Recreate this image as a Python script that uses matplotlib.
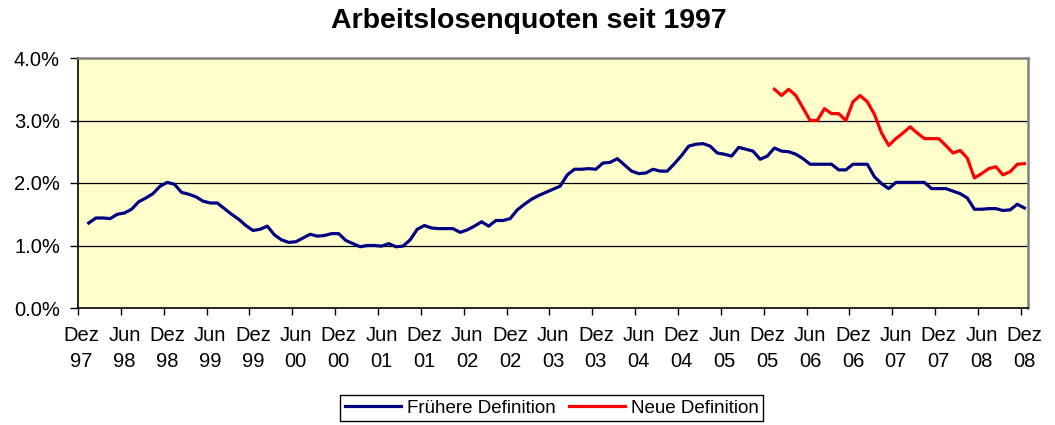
import numpy as np
import matplotlib
matplotlib.use("Agg")
import matplotlib.pyplot as plt
from matplotlib.ticker import FuncFormatter

plt.rcParams['font.family'] = ['Liberation Sans', 'DejaVu Sans']

# monthly unemployment rates (%), month index 0 = Dez 97
fruehere_start = 1   # Jan 98
fruehere = [
    1.36, 1.44, 1.44, 1.43, 1.50, 1.52, 1.58, 1.70, 1.76, 1.83, 1.95, 2.01,
    1.98, 1.85, 1.82, 1.78, 1.71, 1.68, 1.68, 1.59, 1.50, 1.42, 1.32, 1.24,
    1.26, 1.31, 1.17, 1.09, 1.05, 1.06, 1.12, 1.18, 1.15, 1.16, 1.19, 1.19,
    1.08, 1.03, 0.98, 1.00, 1.00, 0.99, 1.03, 0.98, 0.99, 1.09, 1.26, 1.32,
    1.28, 1.27, 1.27, 1.27, 1.21, 1.25, 1.31, 1.38, 1.31, 1.40, 1.40, 1.43,
    1.57, 1.66, 1.74, 1.80, 1.85, 1.90, 1.95, 2.13, 2.22, 2.22, 2.23, 2.22,
    2.32, 2.33, 2.39, 2.29, 2.19, 2.15, 2.16, 2.22, 2.19, 2.19, 2.31, 2.44,
    2.59, 2.62, 2.63, 2.59, 2.48, 2.46, 2.43, 2.57, 2.54, 2.51, 2.38, 2.43,
    2.56, 2.51, 2.50, 2.46, 2.39, 2.30, 2.30, 2.30, 2.30, 2.21, 2.21, 2.30,
    2.30, 2.30, 2.10, 1.99, 1.91, 2.01, 2.01, 2.01, 2.01, 2.01, 1.91, 1.91,
    1.91, 1.87, 1.83, 1.76, 1.58, 1.58, 1.59, 1.59, 1.56, 1.57, 1.66, 1.60,
]

neue_start = 97   # Jan 06
neue = [
    3.50, 3.40, 3.50, 3.40, 3.20, 3.00, 3.00, 3.19, 3.11, 3.11, 3.00, 3.30,
    3.40, 3.30, 3.10, 2.80, 2.60, 2.71, 2.80, 2.90, 2.80, 2.71, 2.71, 2.71,
    2.60, 2.48, 2.52, 2.40, 2.08, 2.15, 2.23, 2.26, 2.13, 2.18, 2.30, 2.31,
]

tick_labels = [
    "Dez\n97", "Jun\n98", "Dez\n98", "Jun\n99", "Dez\n99", "Jun\n00",
    "Dez\n00", "Jun\n01", "Dez\n01", "Jun\n02", "Dez\n02", "Jun\n03",
    "Dez\n03", "Jun\n04", "Dez\n04", "Jun\n05", "Dez\n05", "Jun\n06",
    "Dez\n06", "Jun\n07", "Dez\n07", "Jun\n08", "Dez\n08",
]
n_months = 133

fig = plt.figure(figsize=(10.55, 4.25), dpi=100)
ax = fig.add_axes([78 / 1055, 1 - 308 / 425, 950 / 1055, 250 / 425])
ax.set_facecolor('#FFFFCC')

x_f = np.arange(fruehere_start, fruehere_start + len(fruehere))
x_n = np.arange(neue_start, neue_start + len(neue))
ax.plot(x_f, fruehere, color='#000080', lw=2.3, label='Frühere Definition',
        solid_joinstyle='round', zorder=3)
ax.plot(x_n, neue, color='#FF0000', lw=2.3, label='Neue Definition',
        solid_joinstyle='round', zorder=3)

ax.set_xlim(-0.5, n_months - 0.5)
ax.set_ylim(0, 4)
ax.set_yticks([0, 1, 2, 3, 4])
ax.yaxis.set_major_formatter(FuncFormatter(lambda v, p: f"{v:.1f}%"))
for y in [1, 2, 3]:
    ax.axhline(y, color='black', lw=0.9, zorder=1)

# tick marks between categories, labels at category centres
ax.set_xticks(np.arange(-0.5, n_months, 6))
ax.set_xticklabels([])
ax.set_xticks(np.arange(0, n_months, 6), minor=True)
ax.set_xticklabels(tick_labels, minor=True, linespacing=1.45)
ax.tick_params(axis='x', which='major', length=5, width=1, direction='out')
ax.tick_params(axis='x', which='minor', length=0, pad=13, labelsize=14.5)
ax.tick_params(axis='y', length=6, width=1, direction='out', pad=7,
               labelsize=14.5)

for s in ['left', 'bottom']:
    ax.spines[s].set_color('black')
    ax.spines[s].set_linewidth(1.2)
for s in ['top', 'right']:
    ax.spines[s].set_color('#808080')
    ax.spines[s].set_linewidth(1.8)

fig.text(0.501, 1 - 27.5 / 425, 'Arbeitslosenquoten seit 1997',
         ha='center', va='baseline', fontsize=20.5, fontweight='bold')

leg = fig.legend(loc='center', bbox_to_anchor=(0.523, 0.04), ncol=2,
                 fontsize=13.5, handlelength=3.0, handletextpad=0.3,
                 columnspacing=0.7, borderpad=0.25, fancybox=False,
                 framealpha=1, edgecolor='black')
leg.get_frame().set_linewidth(1.0)

fig.savefig('out.png', dpi=100)
